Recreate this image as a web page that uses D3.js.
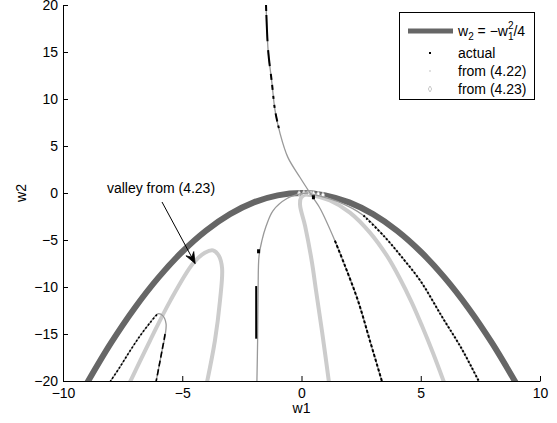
<!DOCTYPE html>
<html><head><meta charset="utf-8">
<script src="https://cdn.jsdelivr.net/npm/d3@7"></script>
<style>body{margin:0;background:#fff}svg{display:block}text{font-family:"Liberation Sans",Arial,Helvetica,sans-serif}</style>
</head><body><div id="chart"></div>
<script>
// ---- data ----
const xTicks = [-10, -5, 0, 5, 10];
const yTicks = [-20, -15, -10, -5, 0, 5, 10, 15, 20];
const xLabel = "w1";
const yLabel = "w2";
const legendLabels = ["actual", "from (4.22)", "from (4.23)"];
const annotationText = "valley from (4.23)";

// w2 = -w1^2/4 (typed points)
const parabola = [[-9,-20.25],[-8,-16],[-7,-12.25],[-6,-9],[-5,-6.25],[-4,-4],[-3,-2.25],[-2,-1],[-1,-0.25],[0,0],[1,-0.25],[2,-1],[3,-2.25],[4,-4],[5,-6.25],[6,-9],[7,-12.25],[8,-16],[9,-20.25]];

// from (4.23) - light gray thick
const eq423A = [[-7.19,-20.1],[-6.35,-15.7],[-5.51,-11.5],[-4.55,-7.5],[-4.05,-6.35],[-3.71,-6.1],[-3.46,-6.7],[-3.33,-8.0],[-3.42,-11.5],[-3.63,-15.7],[-3.96,-20.1]];
const eq423B = [[1.15,-20.1],[0.86,-14.7],[0.61,-10.4],[0.44,-7.4],[0.15,-3.5],[-0.06,-1.3],[-0.02,-0.5],[0.19,-0.1],[0.45,0]];
const eq423C = [[0.15,-0.05],[1.19,-0.8],[2.03,-2.08],[2.87,-4.21],[3.58,-6.67],[4.13,-9.12],[4.63,-11.68],[5.05,-14.13],[5.51,-17.0],[5.97,-20.1]];
const eq423Markers = [[0.1,0],[0.3,0],[0.5,-0.05],[0.7,-0.1],[0.9,-0.2],[-0.1,-0.05]];

// from (4.22) - thin gray
const eq422T1 = [[-1.49,20.5],[-1.40,15.2],[-1.24,11.7],[-1.11,8.8],[-0.90,6.35],[-0.57,3.79],[-0.06,1.65],[0.48,-0.48],[0.78,-1.65],[1.40,-5.07],[1.82,-7.73],[2.37,-11.47],[2.87,-15.73],[3.38,-20.1]];
const eq422T2 = [[-1.87,-20.1],[-1.84,-15.7],[-1.82,-10.4],[-1.78,-6.67],[-1.66,-5.07],[-1.49,-3.57],[-1.19,-1.87],[-0.61,-0.59],[-0.06,-0.1],[0.3,0]];
const eq422T3 = [[0.4,-0.1],[1.5,-0.9],[2.6,-2.4],[3.5,-4.7],[4.2,-6.8],[5.0,-9.4],[5.9,-13.2],[6.7,-16.5],[7.45,-20.1]];
const eq422T4 = [[-8.03,-20.1],[-7.61,-18.5],[-7.19,-16.8],[-6.77,-15.2],[-6.35,-13.8],[-6.02,-12.85],[-5.81,-13.07],[-5.68,-13.9],[-5.72,-15.2],[-5.85,-16.8],[-5.97,-18.4],[-6.1,-20.1]];

// actual - black
const actualTop = [[-1.49,20.2],[-1.40,15.2],[-1.24,11.7],[-1.11,8.8],[-0.95,6.9]];
const actualT1 = [[1.40,-5.07],[1.82,-7.73],[2.37,-11.47],[2.87,-15.73],[3.38,-20.1]];
const actualT3 = [[2.6,-2.4],[3.5,-4.7],[4.2,-6.8],[5.0,-9.4],[5.9,-13.2],[6.7,-16.5],[7.45,-20.1]];
const actualT2 = [[-1.9,-9.9],[-1.9,-15.5]];
const actualT4L = [[-8.03,-20.1],[-7.61,-18.5],[-7.19,-16.8],[-6.77,-15.2],[-6.35,-13.8],[-6.05,-12.9]];
const actualT4R = [[-5.72,-15.0],[-5.85,-16.8],[-5.97,-18.4],[-6.1,-20.1]];
const actualDots = [[0.5,-0.45],[-1.8,-6.2]];

// ---- chart ----
const W = 557, H = 423, FS = 14;
const m = {left: 63, right: 17, top: 5, bottom: 42};
const svg = d3.select("#chart").append("svg").attr("width", W).attr("height", H);
const x = d3.scaleLinear().domain([-10, 10]).range([m.left, W - m.right]);
const y = d3.scaleLinear().domain([-20, 20]).range([H - m.bottom, m.top]);

svg.append("defs").append("clipPath").attr("id", "clip")
  .append("rect").attr("x", m.left).attr("y", m.top).attr("width", W - m.left - m.right).attr("height", H - m.top - m.bottom);

const g = svg.append("g").attr("clip-path", "url(#clip)");
const line = d3.line().x(d => x(d[0])).y(d => y(d[1])).curve(d3.curveCatmullRom.alpha(0.5));
const straight = d3.line().x(d => x(d[0])).y(d => y(d[1]));

const DARK = "#666", LIGHT = "#cccccc", THIN = "#999";

g.append("path").attr("d", line(parabola)).attr("fill", "none").attr("stroke", DARK).attr("stroke-width", 6);
[eq423A, eq423B, eq423C].forEach(s => g.append("path").attr("d", line(s)).attr("fill", "none").attr("stroke", LIGHT).attr("stroke-width", 4));
g.selectAll(".m423").data(eq423Markers).join("path").attr("class", "m423")
  .attr("d", d3.symbol(d3.symbolDiamond, 10)).attr("transform", d => `translate(${x(d[0])},${y(d[1])})`)
  .attr("fill", "#fff").attr("stroke", "#bbb").attr("stroke-width", 0.8);
[eq422T1, eq422T2, eq422T3, eq422T4].forEach(s => g.append("path").attr("d", line(s)).attr("fill", "none").attr("stroke", THIN).attr("stroke-width", 1.3));

g.append("path").attr("d", line(actualTop)).attr("fill", "none").attr("stroke", "#000").attr("stroke-width", 2).attr("stroke-dasharray", "8,4,26,9,16,8,6,5,5,6,3,6,3,6");
g.append("path").attr("d", line(actualT1)).attr("fill", "none").attr("stroke", "#000").attr("stroke-width", 2).attr("stroke-dasharray", "3,2");
g.append("path").attr("d", line(actualT3)).attr("fill", "none").attr("stroke", "#000").attr("stroke-width", 2).attr("stroke-dasharray", "2,2");
g.append("path").attr("d", straight(actualT2)).attr("fill", "none").attr("stroke", "#000").attr("stroke-width", 2);
g.append("path").attr("d", line(actualT4L)).attr("fill", "none").attr("stroke", "#000").attr("stroke-width", 1.6).attr("stroke-dasharray", "2,2");
g.append("path").attr("d", line(actualT4R)).attr("fill", "none").attr("stroke", "#000").attr("stroke-width", 1.6).attr("stroke-dasharray", "6,3");
g.selectAll(".ad").data(actualDots).join("rect").attr("class", "ad")
  .attr("x", d => x(d[0]) - 1.5).attr("y", d => y(d[1]) - 2).attr("width", 3).attr("height", 4).attr("fill", "#000");

// axes (MATLAB style: inward ticks, no box)
const fmt = d => d < 0 ? "\u2212" + Math.abs(d) : d;
const xAxis = svg.append("g").attr("transform", `translate(0,${H - m.bottom})`)
  .call(d3.axisBottom(x).tickValues(xTicks).tickSizeInner(-5).tickSizeOuter(0).tickPadding(7).tickFormat(fmt));
const yAxis = svg.append("g").attr("transform", `translate(${m.left},0)`)
  .call(d3.axisLeft(y).tickValues(yTicks).tickSizeInner(-5).tickSizeOuter(0).tickPadding(5).tickFormat(fmt));
[xAxis, yAxis].forEach(a => {
  a.select(".domain").attr("stroke", "#000").attr("stroke-width", 1);
  a.selectAll(".tick line").attr("stroke", "#000");
  a.selectAll("text").attr("font-size", FS).attr("fill", "#000").style("font-family", "'Liberation Sans',Arial,sans-serif");
});

svg.append("text").attr("x", x(0)).attr("y", 413).attr("text-anchor", "middle").attr("font-size", FS).text(xLabel);
svg.append("text").attr("transform", `translate(26,${y(0)}) rotate(-90)`).attr("text-anchor", "middle").attr("font-size", FS).text(yLabel);

// annotation
svg.append("text").attr("x", 161).attr("y", 193).attr("text-anchor", "middle").attr("font-size", FS).text(annotationText);
const ax0 = 162, ay0 = 202, ax1 = x(-4.46), ay1 = y(-7.5);
svg.append("line").attr("x1", ax0).attr("y1", ay0).attr("x2", ax1).attr("y2", ay1).attr("stroke", "#000").attr("stroke-width", 1);
{
  const ang = Math.atan2(ay1 - ay0, ax1 - ax0), L = 12, wA = 0.38;
  const p1 = [ax1 - L * Math.cos(ang - wA), ay1 - L * Math.sin(ang - wA)];
  const p2 = [ax1 - L * Math.cos(ang + wA), ay1 - L * Math.sin(ang + wA)];
  const pm = [ax1 - 0.6 * L * Math.cos(ang), ay1 - 0.6 * L * Math.sin(ang)];
  svg.append("path").attr("d", `M${p1}L${ax1},${ay1}L${p2}L${pm}Z`).attr("fill", "#000").attr("stroke", "#000").attr("stroke-width", 0.8);
}

// legend
const lg = svg.append("g");
lg.append("rect").attr("x", 399.5).attr("y", 12.5).attr("width", 135).attr("height", 87).attr("fill", "#fff").attr("stroke", "#000");
lg.append("line").attr("x1", 408).attr("x2", 453).attr("y1", 31).attr("y2", 31).attr("stroke", DARK).attr("stroke-width", 5);
const t0 = lg.append("text").attr("x", 458).attr("y", 36).attr("font-size", FS);
t0.append("tspan").text("w");
t0.append("tspan").attr("font-size", 10).attr("dy", 4).text("2");
t0.append("tspan").attr("dy", -4).text(" = \u2212w");
t0.append("tspan").attr("font-size", 10).attr("dy", -7).text("2");
t0.append("tspan").attr("font-size", 10).attr("dy", 11).attr("dx", -5.6).text("1");
t0.append("tspan").attr("dy", -4).text("/4");
const ly = [53, 71, 89];
lg.append("rect").attr("x", 429).attr("y", ly[0] - 1).attr("width", 2).attr("height", 2).attr("fill", "#000");
lg.append("rect").attr("x", 429.5).attr("y", ly[1] - 0.5).attr("width", 1).attr("height", 1).attr("fill", "#888");
lg.append("path").attr("d", d3.symbol(d3.symbolDiamond, 10)).attr("transform", `translate(430,${ly[2]})`).attr("fill", "#fff").attr("stroke", "#bbb").attr("stroke-width", 0.8);
legendLabels.forEach((t, i) => lg.append("text").attr("x", 458).attr("y", ly[i] + 5).attr("font-size", FS).text(t));
</script></body></html>
